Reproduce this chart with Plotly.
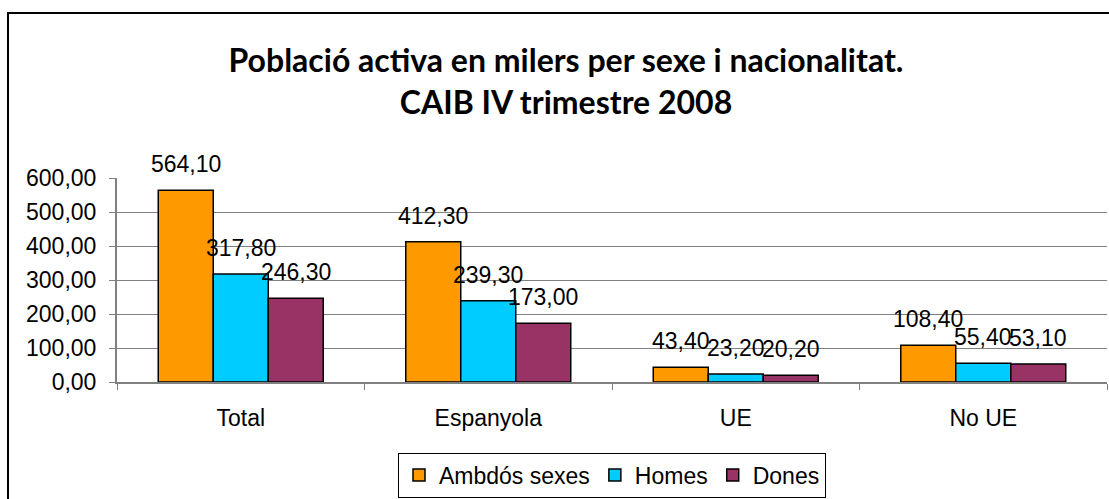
import plotly.graph_objects as go

categories = ["Total", "Espanyola", "UE", "No UE"]
series_names = ["Ambdós sexes", "Homes", "Dones"]
ambdos = [564.10, 412.30, 43.40, 108.40]
homes = [317.80, 239.30, 23.20, 55.40]
dones = [246.30, 173.00, 20.20, 53.10]
colors = ["#FF9900", "#00CCFF", "#993366"]
y_ticks = [0, 100, 200, 300, 400, 500, 600]

W, H = 1109, 499
L, R, T, B = 117, 2, 178, 117
LABEL_FONT = dict(family="Liberation Sans, Arial, sans-serif", size=23, color="black")

bargap = 1/3
n = 3
bar_w = (1 - bargap) / n

fig = go.Figure()
for k, (name, vals) in enumerate(zip(series_names, [ambdos, homes, dones])):
    fig.add_trace(go.Bar(
        x=categories, y=vals, name=name,
        marker=dict(color=colors[k], line=dict(color="black", width=1.5)),
    ))
    off = (k - (n - 1) / 2) * bar_w
    for i, v in enumerate(vals):
        fig.add_annotation(
            x=i + off, y=v, xref="x", yref="y",
            text=f"{v:.2f}".replace(".", ","),
            showarrow=False, yanchor="bottom", yshift=11,
            font=LABEL_FONT,
        )

# outer chart border (extends beyond the visible area like the reference)
pw, ph = W - L - R, H - T - B
def px(xp): return (xp - L) / pw
def py(yp): return (H - B - yp) / ph
fig.add_shape(type="rect", xref="paper", yref="paper",
              x0=px(8), x1=px(1125), y0=py(520), y1=py(13),
              line=dict(color="black", width=2), fillcolor="rgba(0,0,0,0)", layer="above")

fig.update_layout(
    width=W, height=H,
    margin=dict(l=L, r=R, t=T, b=B),
    paper_bgcolor="white", plot_bgcolor="white",
    separators=",.",
    barmode="group", bargap=bargap, bargroupgap=0,
    title=dict(
        text="Població activa en milers per sexe i nacionalitat.<br>CAIB IV trimestre 2008",
        x=px(566), xref="paper", xanchor="center",
        y=1 - 72 / H, yanchor="middle",
        font=dict(family="Lato, Open Sans, sans-serif", size=32, color="black", weight="bold"),
    ),
    showlegend=True,
    legend=dict(
        orientation="h", x=0.5, xanchor="center", y=py(475), yanchor="middle",
        bordercolor="black", borderwidth=1, bgcolor="white",
        font=LABEL_FONT, traceorder="normal",
    ),
    xaxis=dict(
        type="category", tickson="boundaries", ticks="outside", ticklen=6,
        tickcolor="#808080", showline=True, linecolor="#808080", linewidth=2,
        tickfont=LABEL_FONT, showgrid=False, ticklabelstandoff=14,
    ),
    yaxis=dict(
        range=[0, 600], tickvals=y_ticks, tickformat=".2f",
        ticks="outside", ticklen=6, tickcolor="#808080",
        showline=True, linecolor="#808080", linewidth=2,
        showgrid=True, gridcolor="#808080", gridwidth=1,
        tickfont=LABEL_FONT, zeroline=False, ticklabelstandoff=8,
    ),
)

fig.write_html("out.html", config={"displayModeBar": False},
               post_script="document.body.style.margin='0';")
